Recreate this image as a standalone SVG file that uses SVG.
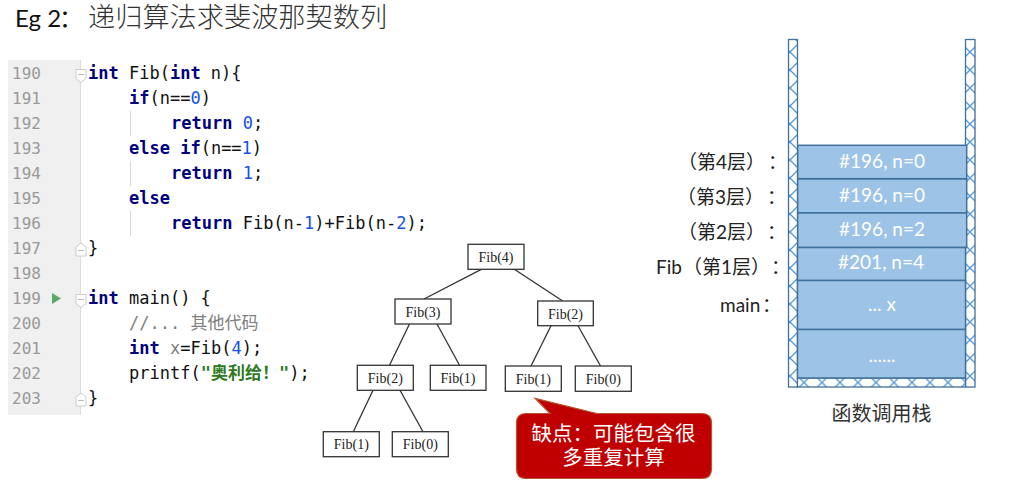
<svg xmlns="http://www.w3.org/2000/svg" width="1011" height="483" viewBox="0 0 1011 483">
<style>
.ln{font:16px "DejaVu Sans Mono",monospace;fill:#999;text-anchor:end}
.c{font:17px "DejaVu Sans Mono","Noto Sans CJK SC",monospace;fill:#111;white-space:pre}
.k{font-weight:bold;fill:#000080}
.n{fill:#1750eb}
.cm{fill:#808080}
.s{fill:#2d7a1f;font-weight:bold}
.nb{fill:#fff;stroke:#333;stroke-width:1.3}
.nt{font:14px "Liberation Serif",serif;fill:#222;text-anchor:middle}
.e{stroke:#333;stroke-width:1.3;fill:none}
.st{fill:#9dc3e6;stroke:#41719c;stroke-width:1.5}
.stt{font:19px Lato,"Liberation Sans",sans-serif;fill:#fff;text-anchor:middle}
.lb{font:19px Lato,"Noto Sans CJK SC",sans-serif;fill:#222}
.g{stroke:#d8d8d8;stroke-width:1}
.f{fill:#fff;stroke:#ccc;stroke-width:1}
.m{stroke:#bbb;stroke-width:1}
.w{stroke:#41719c;stroke-width:1.3}
.cjk{font-family:"Liberation Sans","Noto Sans CJK SC",sans-serif}
</style>
<defs>
<pattern id="h" width="18" height="18" patternUnits="userSpaceOnUse" x="961" y="43">
<rect width="18" height="18" fill="#fff"/>
<path d="M0 0L18 18M18 0L0 18" stroke="#5b9bd5" stroke-width="1.4"/>
</pattern>
<pattern id="hb" width="18" height="18" patternUnits="userSpaceOnUse" x="795" y="373.500">
<rect width="18" height="18" fill="#fff"/>
<path d="M0 0L18 18M18 0L0 18" stroke="#5b9bd5" stroke-width="1.4"/>
</pattern>
</defs>
<rect width="1011" height="483" fill="#fff"/>
<g id="title">
<text x="15" y="27" font-family="Lato,Liberation Sans,sans-serif" font-size="24" fill="#111">Eg 2</text>
<text class="cjk" x="59" y="27" font-size="24" fill="#111">：</text>
<text class="cjk" x="88" y="27" font-size="27.200" font-weight="300" fill="#333">递归算法求斐波那契数列</text>
</g>
<g id="code">
<rect x="8" y="60" width="73" height="355" fill="#f0f0f0"/>
<line x1="80.500" y1="60" x2="80.500" y2="415" stroke="#ddd"/>
<g class="ln-g">
<text class="ln" x="41" y="79">190</text>
<text class="ln" x="41" y="104">191</text>
<text class="ln" x="41" y="129">192</text>
<text class="ln" x="41" y="154">193</text>
<text class="ln" x="41" y="179">194</text>
<text class="ln" x="41" y="204">195</text>
<text class="ln" x="41" y="229">196</text>
<text class="ln" x="41" y="254">197</text>
<text class="ln" x="41" y="279">198</text>
<text class="ln" x="41" y="304">199</text>
<text class="ln" x="41" y="329">200</text>
<text class="ln" x="41" y="354">201</text>
<text class="ln" x="41" y="379">202</text>
<text class="ln" x="41" y="404">203</text>
</g>
<path d="M52 293L61 298.500L52 304Z" fill="#59a869"/>
<path class="f" d="M76 69.500h10v9l-5 4l-5-4Z"/><path class="m" d="M78 74.500h6"/>
<path class="f" d="M76 256h10v-9l-5-4l-5 4Z"/><path class="m" d="M78 250.500h6"/>
<path class="f" d="M76 294.500h10v9l-5 4l-5-4Z"/><path class="m" d="M78 299.500h6"/>
<path class="f" d="M76 406h10v-9l-5-4l-5 4Z"/><path class="m" d="M78 400.500h6"/>
<line class="g" x1="130.500" y1="111" x2="130.500" y2="136"/>
<line class="g" x1="130.500" y1="161" x2="130.500" y2="186"/>
<line class="g" x1="130.500" y1="211" x2="130.500" y2="236"/>
<text class="c" x="88" y="79"><tspan class="k">int</tspan> Fib(<tspan class="k">int</tspan> n){</text>
<text class="c" x="129" y="104"><tspan class="k">if</tspan>(n==<tspan class="n">0</tspan>)</text>
<text class="c" x="171" y="129"><tspan class="k">return</tspan> <tspan class="n">0</tspan>;</text>
<text class="c" x="129" y="154"><tspan class="k">else if</tspan>(n==<tspan class="n">1</tspan>)</text>
<text class="c" x="171" y="179"><tspan class="k">return</tspan> <tspan class="n">1</tspan>;</text>
<text class="c" x="129" y="204"><tspan class="k">else</tspan></text>
<text class="c" x="171" y="229"><tspan class="k">return</tspan> Fib(n-<tspan class="n">1</tspan>)+Fib(n-<tspan class="n">2</tspan>);</text>
<text class="c" x="88" y="254">}</text>
<text class="c" x="88" y="304"><tspan class="k">int</tspan> main() {</text>
<text class="c cm" x="129" y="329">//... 其他代码</text>
<text class="c" x="129" y="354"><tspan class="k">int</tspan> <tspan class="cm">x</tspan>=Fib(<tspan class="n">4</tspan>);</text>
<text class="c" x="129" y="379">printf(<tspan class="s">"奥利给！"</tspan>);</text>
<text class="c" x="88" y="404">}</text>
</g>
<g id="connectors">
<path class="e" d="M481.300 269.300L424 299"/>
<path class="e" d="M514.300 269.300L562.700 301"/>
<path class="e" d="M409.500 324L389.500 365.300"/>
<path class="e" d="M437 324L459.500 365.300"/>
<path class="e" d="M551 325.700L531 366"/>
<path class="e" d="M578 325.700L600.500 366"/>
<path class="e" d="M373 390.300L353.300 431.700"/>
<path class="e" d="M400 390.300L423 431.700"/>
</g>
<g id="fib4"><rect class="nb" x="468" y="244.300" width="56" height="25"/><text class="nt" x="496" y="262">Fib(4)</text></g>
<g id="fib3"><rect class="nb" x="395" y="299" width="56" height="25"/><text class="nt" x="423" y="316.500">Fib(3)</text></g>
<g id="fib2a"><rect class="nb" x="537.700" y="301" width="55.600" height="24.700"/><text class="nt" x="565.500" y="318.500">Fib(2)</text></g>
<g id="fib2b"><rect class="nb" x="357.300" y="365.300" width="56" height="25"/><text class="nt" x="385.300" y="383">Fib(2)</text></g>
<g id="fib1a"><rect class="nb" x="430.300" y="365.300" width="55.700" height="25"/><text class="nt" x="458" y="383">Fib(1)</text></g>
<g id="fib1b"><rect class="nb" x="505.300" y="366" width="56" height="25.300"/><text class="nt" x="533.300" y="384">Fib(1)</text></g>
<g id="fib0a"><rect class="nb" x="575.300" y="366" width="56" height="25.300"/><text class="nt" x="603.300" y="384">Fib(0)</text></g>
<g id="fib1c"><rect class="nb" x="323.300" y="431.700" width="56" height="25"/><text class="nt" x="351.300" y="449">Fib(1)</text></g>
<g id="fib0b"><rect class="nb" x="392.300" y="431.700" width="56" height="25"/><text class="nt" x="420.300" y="449">Fib(0)</text></g>
<g id="callout">
<path d="M526 413.500L550 413.500L535 398.300L597 413.500L702 413.500Q711.500 413.500 711.500 423V469Q711.500 478.500 702 478.500H526Q516.500 478.500 516.500 469V423Q516.500 413.500 526 413.500Z" fill="#c00000" stroke="#b5562f" stroke-width="1.200"/>
<text class="cjk" x="613.500" y="441" font-size="20.500" fill="#fff" text-anchor="middle">缺点：可能包含很</text>
<text class="cjk" x="613.500" y="465" font-size="20.500" fill="#fff" text-anchor="middle">多重复计算</text>
</g>
<g id="stack">
<rect class="w" x="788.500" y="39.500" width="9" height="347.500" fill="url(#h)"/>
<rect class="w" x="965.500" y="39.500" width="9.500" height="347.500" fill="url(#h)"/>
<rect class="w" x="797.500" y="378" width="168" height="9" fill="url(#hb)"/>
<rect class="st" x="797.700" y="145.300" width="169" height="33.400"/>
<rect class="st" x="797.700" y="179" width="169" height="34"/>
<rect class="st" x="797.700" y="213" width="169" height="34.500"/>
<rect class="st" x="797.500" y="247.500" width="168" height="33"/>
<rect class="st" x="797.500" y="280.500" width="168" height="49"/>
<rect class="st" x="797.500" y="329.500" width="168" height="48.500"/>
<text class="stt" x="882" y="168">#196, n=0</text>
<text class="stt" x="882" y="202">#196, n=0</text>
<text class="stt" x="882" y="236">#196, n=2</text>
<text class="stt" x="881" y="269">#201, n=4</text>
<text class="stt" x="882" y="311">... x</text>
<text class="stt" x="882" y="362">......</text>
<text class="lb" x="678" y="169">（第4层）<tspan x="768">：</tspan></text>
<text class="lb" x="677" y="204">（第3层）<tspan x="767">：</tspan></text>
<text class="lb" x="678" y="239">（第2层）<tspan x="767">：</tspan></text>
<text class="lb" x="656" y="274">Fib<tspan x="683">（第1层）</tspan><tspan x="771">：</tspan></text>
<text class="lb" x="720" y="312">main<tspan x="762">：</tspan></text>
<text class="cjk" x="881.500" y="421" font-size="20" fill="#333" text-anchor="middle">函数调用栈</text>
</g>
</svg>
